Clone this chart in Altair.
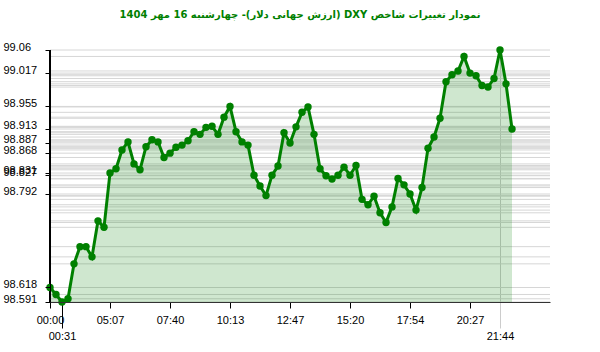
import altair as alt
import pandas as pd

# ---- data ----
values = [98.618, 98.605, 98.591, 98.597, 98.662, 98.694, 98.694, 98.675, 98.742, 98.730,
          98.831, 98.839, 98.874, 98.889, 98.848, 98.837, 98.880, 98.893, 98.889, 98.860,
          98.868, 98.879, 98.883, 98.891, 98.908, 98.903, 98.916, 98.918, 98.903, 98.935,
          98.955, 98.908, 98.889, 98.883, 98.827, 98.807, 98.789, 98.827, 98.844, 98.906,
          98.887, 98.917, 98.944, 98.954, 98.903, 98.839, 98.826, 98.820, 98.827, 98.842,
          98.827, 98.845, 98.782, 98.772, 98.788, 98.757, 98.739, 98.768, 98.821, 98.809,
          98.792, 98.762, 98.804, 98.877, 98.898, 98.933, 99.001, 99.014, 99.021, 99.048,
          99.017, 99.012, 98.994, 98.991, 99.007, 99.060, 98.997, 98.913]
index = list(range(len(values)))

tick_index = [0, 10, 20, 30, 40, 50, 60, 70]
tick_labels = ["00:00", "05:07", "07:40", "10:13", "12:47", "15:20", "17:54", "20:27"]
extreme_index = [2, 75]
extreme_labels = ["00:31", "21:44"]
y_ticks = [99.06, 99.017, 98.955, 98.913, 98.887, 98.868, 98.831, 98.827, 98.792, 98.618, 98.591]

title_text = "نمودار تغییرات شاخص DXY (ارزش جهانی دلار)- چهارشنبه  16 مهر 1404"

df = pd.DataFrame({"i": index, "v": values})
grid_df = pd.DataFrame({"g": sorted(set(values + y_ticks))})
vmin, vmax = min(values), max(values)

def label_expr(idx, labs):
    pairs = ",".join(f"'{a}':'{b}'" for a, b in zip(idx, labs))
    return "{" + pairs + "}[datum.value]"

GREEN = "#008000"
FONT = "Liberation Sans"

x_scale = alt.Scale(domain=[0, 83.33], nice=False, zero=False)
y_scale = alt.Scale(domain=[vmin, vmax], nice=False, zero=False)

y_axis = alt.Axis(values=y_ticks, format=".3~f", grid=False, labelAlign="left",
                  labelPadding=42, tickSize=5, labelOffset=-3, labelOverlap=False,
                  labelBound=False, domain=True, domainColor="black", domainWidth=1,
                  tickColor="black", labelColor="black", labelFont=FONT,
                  labelFontSize=11, title=None, orient="left", zindex=1)

x_axis_main = alt.Axis(values=tick_index, labelExpr=label_expr(tick_index, tick_labels),
                       grid=False, tickSize=6, labelPadding=6, labelFlush=False,
                       labelOverlap=False, domainColor="#333333", tickColor="black",
                       labelColor="black", labelFont=FONT, labelFontSize=11, title=None,
                       orient="bottom", zindex=1)

x_axis_ext = alt.Axis(values=extreme_index, labelExpr=label_expr(extreme_index, extreme_labels),
                      grid=True, gridColor="#cccccc",
                      gridOpacity={"expr": "datum.value == 75 ? 1 : 0"},
                      tickColor={"expr": "datum.value == 75 ? '#cccccc' : 'black'"},
                      tickSize=26, labelPadding=2, labelFlush=False, labelOverlap=False,
                      domain=False, labelColor="black", labelFont=FONT, labelFontSize=11,
                      title=None, orient="bottom")

grid = alt.Chart(grid_df).mark_rule(color="#d6d6d6", strokeWidth=1).encode(
    y=alt.Y("g:Q", scale=y_scale, axis=y_axis)
)

area = alt.Chart(df).mark_area(color=GREEN, opacity=0.19).encode(
    x=alt.X("i:Q", scale=x_scale, axis=x_axis_main),
    y=alt.Y("v:Q", scale=y_scale, axis=None),
    y2=alt.datum(vmin),
)

line = alt.Chart(df).mark_line(color=GREEN, strokeWidth=3).encode(
    x=alt.X("i:Q", scale=x_scale, axis=x_axis_ext),
    y=alt.Y("v:Q", scale=y_scale, axis=None),
)

points = alt.Chart(df).mark_circle(color=GREEN, opacity=1, size=55).encode(
    x=alt.X("i:Q", scale=x_scale, axis=None),
    y=alt.Y("v:Q", scale=y_scale, axis=None),
)

y_domain_line = alt.Chart(df).mark_rule(color="black", strokeWidth=1).encode(
    x=alt.datum(index[0], scale=x_scale, axis=None),
    y=alt.datum(vmin, scale=y_scale, axis=None),
    y2=alt.datum(vmax),
)

chart = alt.layer(grid, area, y_domain_line, line, points).resolve_axis(
    x="independent", y="independent"
).properties(
    width=500, height=252,
    autosize=alt.AutoSizeParams(type="none"),
    padding={"left": 50, "top": 50, "right": 50, "bottom": 50},
    title=alt.TitleParams("\u202B" + title_text + "\u202C", color=GREEN, font="DejaVu Sans",
                          fontSize=10, fontWeight="bold", anchor="middle", offset=21),
    background="white",
).configure_view(stroke=None)

chart.save("out.html", embed_options={"renderer": "svg", "actions": False})
